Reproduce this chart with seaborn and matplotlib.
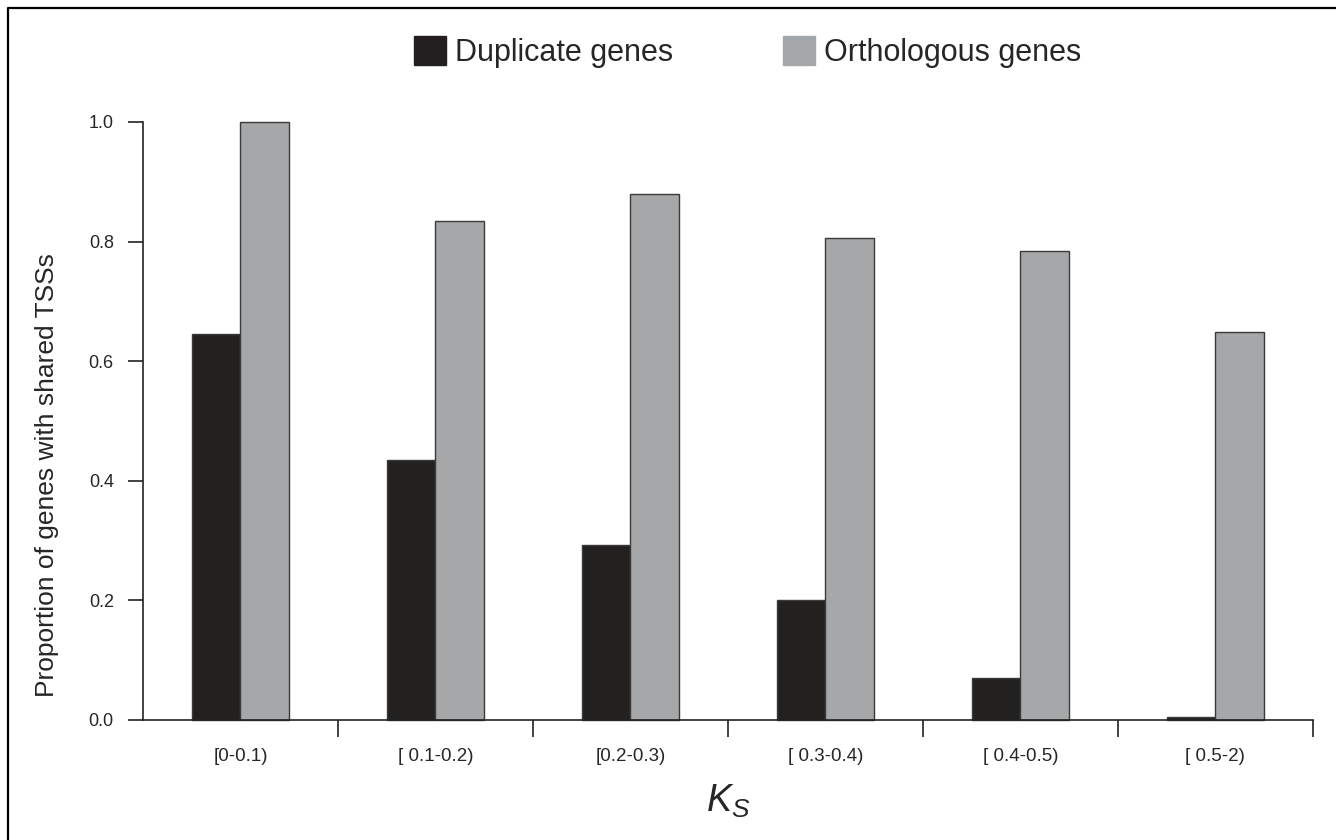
import matplotlib.pyplot as plt
import matplotlib.patches as mpatches
from matplotlib.lines import Line2D
from matplotlib.ticker import FixedLocator, NullFormatter
import numpy as np
import pandas as pd
import seaborn as sns

sns.set_theme(style="white")
plt.rcParams["font.family"] = ["Liberation Sans", "DejaVu Sans"]
plt.rcParams["mathtext.fontset"] = "custom"
plt.rcParams["mathtext.it"] = "Liberation Sans:italic"
plt.rcParams["mathtext.rm"] = "Liberation Sans"

# Ks intervals
categorias = ["[0-0.1)", "[ 0.1-0.2)", "[0.2-0.3)", "[ 0.3-0.4)", "[ 0.4-0.5)", "[ 0.5-2)"]
series = ["Duplicate genes", "Orthologous genes"]
duplicados = [0.645, 0.435, 0.292, 0.200, 0.071, 0.005]
ortologos = [1.000, 0.834, 0.880, 0.806, 0.784, 0.649]
yticks = [0.0, 0.2, 0.4, 0.6, 0.8, 1.0]

COLORES = {"Duplicate genes": "#231f20", "Orthologous genes": "#a4a7a9"}

df = pd.DataFrame({
    "ks": categorias * 2,
    "serie": [series[0]] * len(categorias) + [series[1]] * len(categorias),
    "prop": duplicados + ortologos,
})

fig = plt.figure(figsize=(13.36, 8.4), dpi=100)
ax = fig.add_axes([0.107, 0.1429, 0.8757, 0.7119])

sns.barplot(
    data=df, x="ks", y="prop", hue="serie", order=categorias, hue_order=series,
    palette=COLORES, width=0.5, edgecolor="#3a3a3a", linewidth=1.0,
    legend=False, ax=ax,
)
for p in ax.patches:
    p.set_clip_on(False)

ax.set_xlim(-0.5, len(categorias) - 0.5)
ax.set_ylim(0, 1)

for lado in ["top", "right"]:
    ax.spines[lado].set_visible(False)
for lado in ["left", "bottom"]:
    ax.spines[lado].set_linewidth(1.2)
    ax.spines[lado].set_color("#222222")

# y axis
ax.set_yticks(yticks)
ax.set_yticklabels([f"{v:.1f}" for v in yticks])
ax.tick_params(axis="y", direction="out", length=11, width=1.2, color="#222222",
               pad=10, labelsize=13, left=True)

# x axis: ticks between groups, labels on group centres
ax.xaxis.set_major_locator(FixedLocator(np.arange(len(categorias)) + 0.5))
ax.xaxis.set_major_formatter(NullFormatter())
ax.xaxis.set_minor_locator(FixedLocator(np.arange(len(categorias))))
ax.set_xticklabels(categorias, minor=True)
ax.tick_params(axis="x", which="major", direction="out", length=12, width=1.2,
               color="#222222", bottom=True)
ax.tick_params(axis="x", which="minor", length=0, pad=20, labelsize=13.5, bottom=True)

ax.set_ylabel("Proportion of genes with shared TSSs", fontsize=19)
ax.yaxis.set_label_coords(-0.072, 0.41)
ax.set_xlabel("$K_S$", fontsize=27)
ax.xaxis.set_label_coords(0.5, -0.105)

handles = [mpatches.Patch(facecolor=COLORES[s], edgecolor=COLORES[s], label=s) for s in series]
fig.legend(handles=handles, loc="center", bbox_to_anchor=(0.5595, 0.938), ncol=2,
           frameon=False, fontsize=22, handlelength=1.05, handleheight=1.05,
           handletextpad=0.3, columnspacing=3.6)

# marco de la figura (solo arriba e izquierda visibles)
x0, y0 = 8 / 1336, 1 - 8 / 840
fig.add_artist(Line2D([x0, x0, 1.0], [0.0, y0, y0], transform=fig.transFigure,
                      color="black", linewidth=1.6))

plt.savefig("out.png", dpi=100)
plt.close(fig)
